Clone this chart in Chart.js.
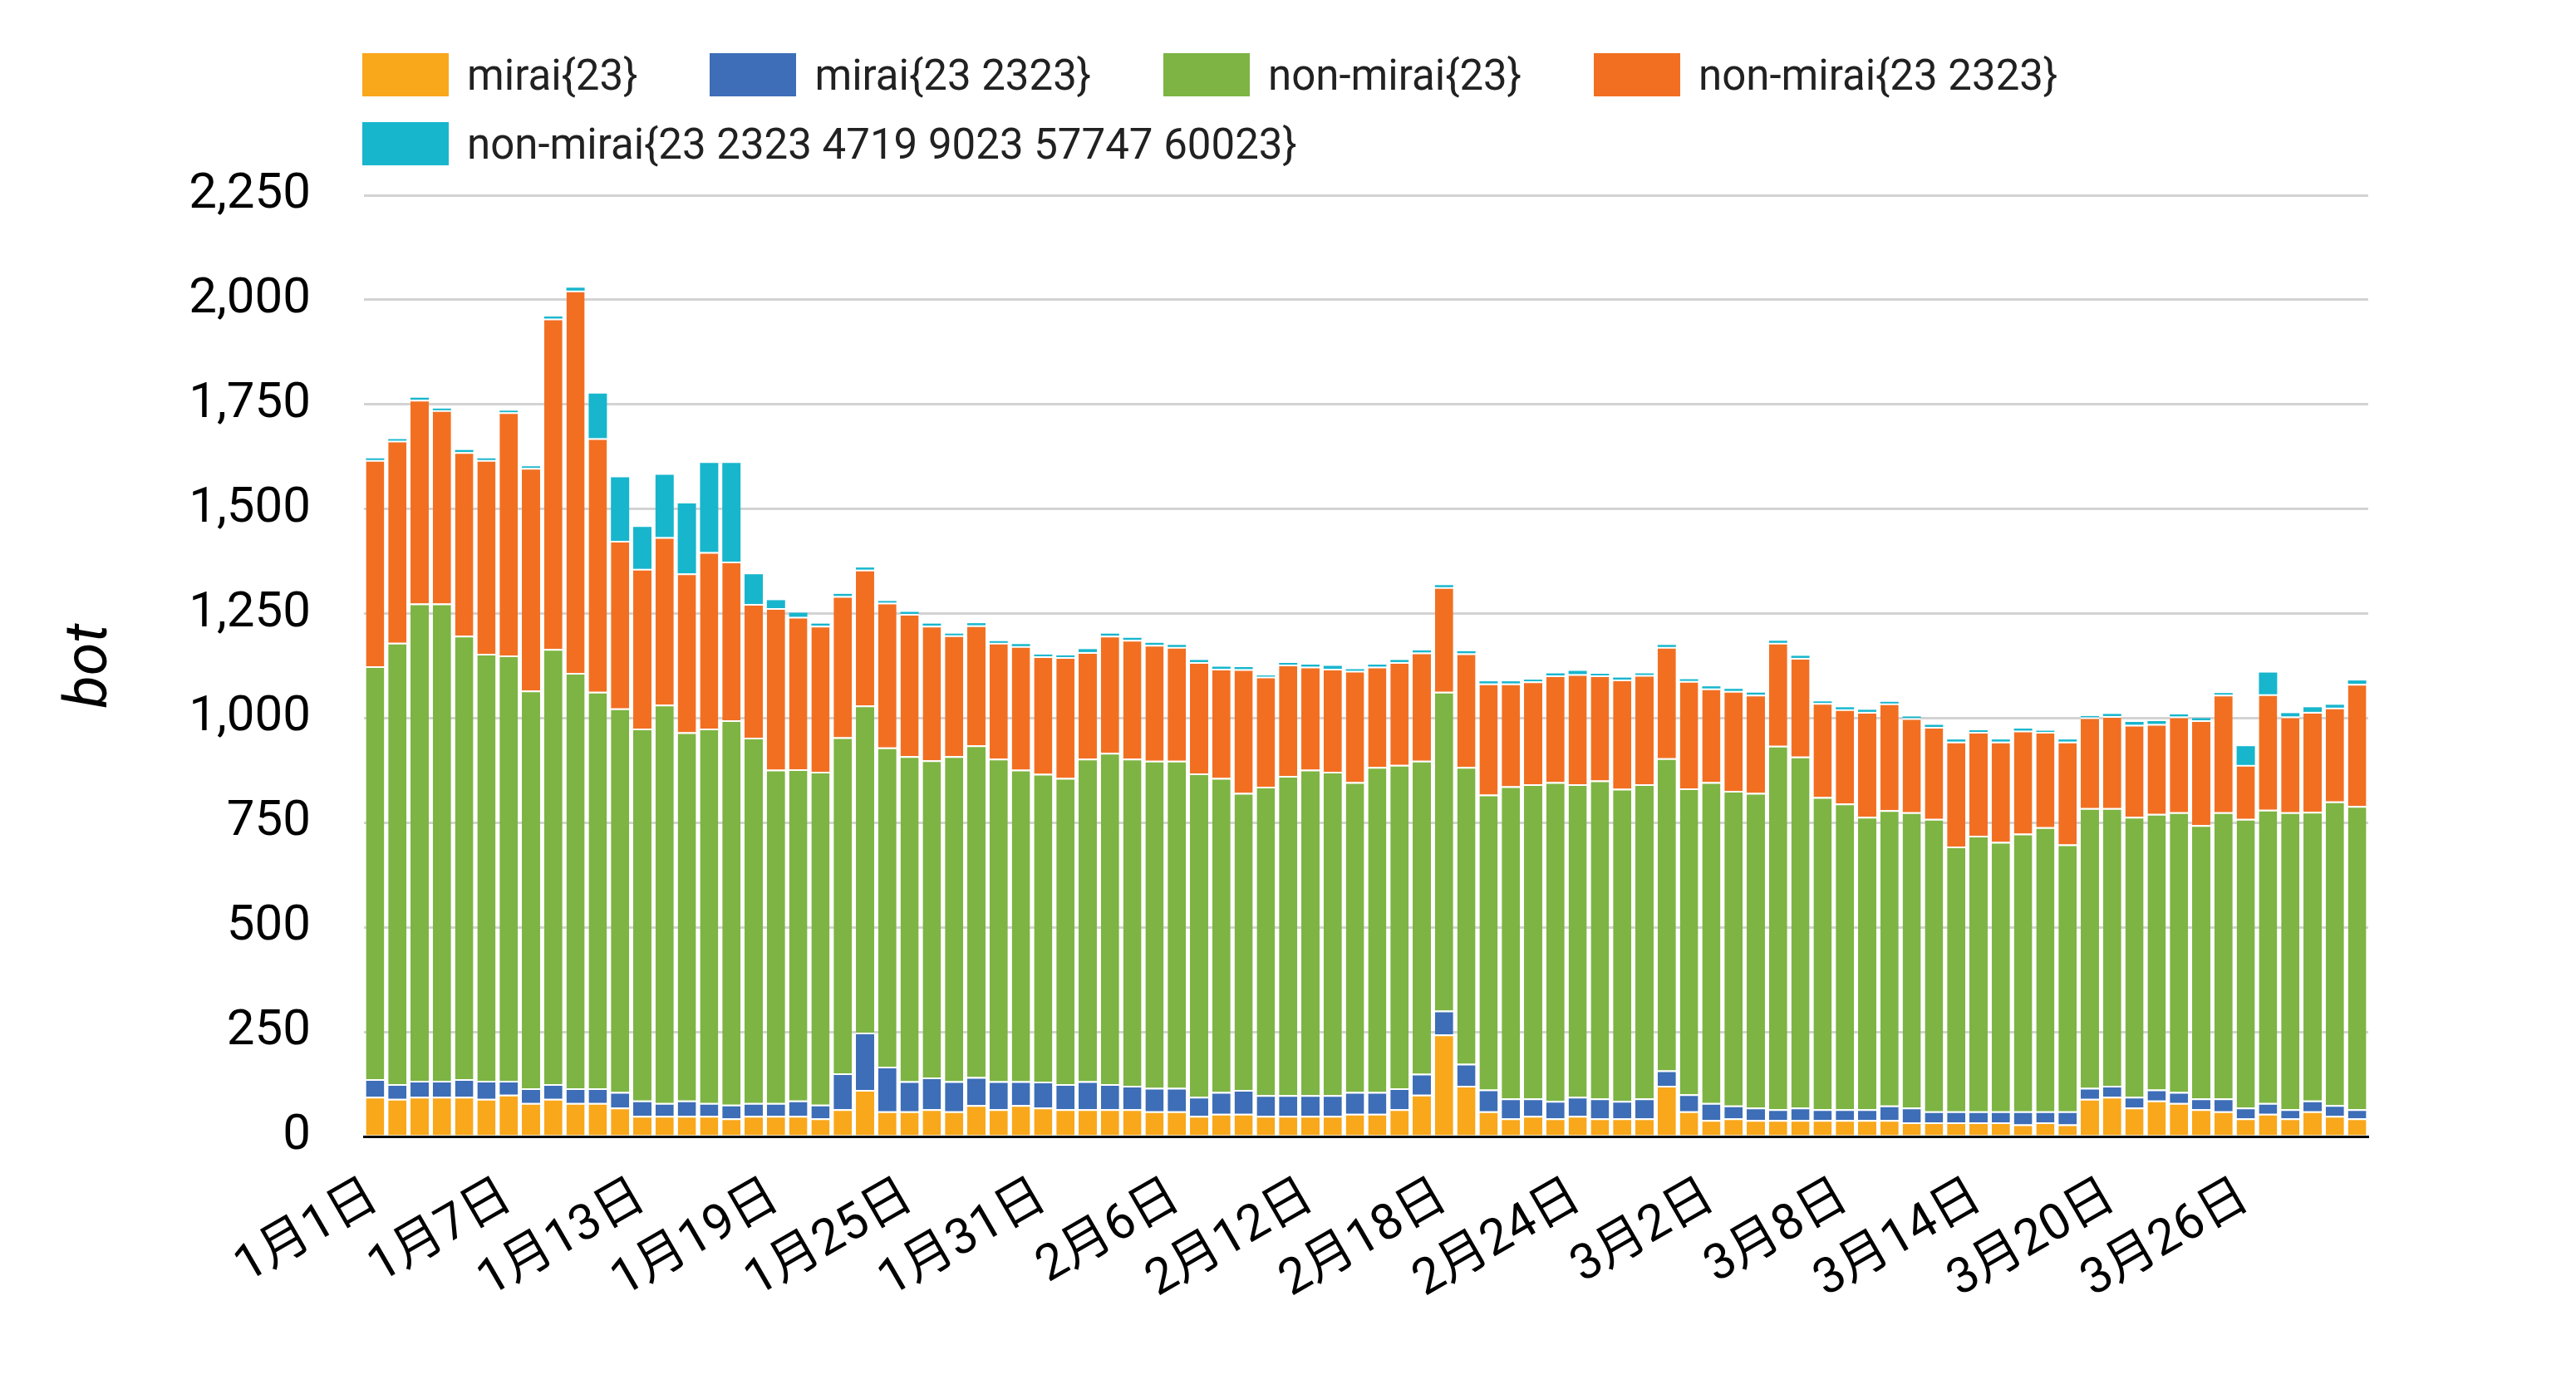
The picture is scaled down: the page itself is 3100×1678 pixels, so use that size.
<!DOCTYPE html>
<html>
<head>
<meta charset="utf-8">
<title>bot</title>
<script src="https://cdn.jsdelivr.net/npm/chart.js@4.4.0/dist/chart.umd.min.js"></script>
<style>
    html, body { margin: 0; padding: 0; background: #fff; }
    .wrap { position: relative; width: 3100px; height: 1678px; }
    #chart { position: absolute; left: 0; top: 0; }
    .legend { position: absolute; left: 436px; top: 64px; width: 2414px; display: flex; flex-wrap: wrap;
        font-family: Roboto, sans-serif; font-size: 51px; color: #212121; }
    .legend__item { display: flex; align-items: center; height: 52px; margin: 0 87px 31px 0; white-space: nowrap; }
    .legend__box { width: 104px; height: 52px; margin-right: 22px; }
</style>
</head>
<body>
<div class="wrap">
    <canvas id="chart" width="3100" height="1678"></canvas>
    <div class="legend" id="legend"></div>
</div>
<script>
const days = [
    "1月1日", "1月2日", "1月3日", "1月4日", "1月5日", "1月6日", "1月7日", "1月8日", "1月9日", "1月10日",
    "1月11日", "1月12日", "1月13日", "1月14日", "1月15日", "1月16日", "1月17日", "1月18日", "1月19日", "1月20日",
    "1月21日", "1月22日", "1月23日", "1月24日", "1月25日", "1月26日", "1月27日", "1月28日", "1月29日", "1月30日", "1月31日",
    "2月1日", "2月2日", "2月3日", "2月4日", "2月5日", "2月6日", "2月7日", "2月8日", "2月9日", "2月10日",
    "2月11日", "2月12日", "2月13日", "2月14日", "2月15日", "2月16日", "2月17日", "2月18日", "2月19日", "2月20日",
    "2月21日", "2月22日", "2月23日", "2月24日", "2月25日", "2月26日", "2月27日", "2月28日",
    "3月1日", "3月2日", "3月3日", "3月4日", "3月5日", "3月6日", "3月7日", "3月8日", "3月9日", "3月10日",
    "3月11日", "3月12日", "3月13日", "3月14日", "3月15日", "3月16日", "3月17日", "3月18日", "3月19日", "3月20日",
    "3月21日", "3月22日", "3月23日", "3月24日", "3月25日", "3月26日", "3月27日", "3月28日", "3月29日", "3月30日", "3月31日"
];

// every 6th day gets a label
const shownDays = ["1月1日", "1月7日", "1月13日", "1月19日", "1月25日", "1月31日", "2月6日", "2月12日",
    "2月18日", "2月24日", "3月2日", "3月8日", "3月14日", "3月20日", "3月26日"];

const yTicks = [0, 250, 500, 750, 1000, 1250, 1500, 1750, 2000, 2250];

const mirai23 = [
    95, 90, 95, 95, 95, 90, 100, 80, 90, 80, 80, 69, 49, 49, 49, 49, 43, 49, 49, 49, 43, 65, 111, 60, 60, 65, 60, 75, 65, 75,
    69, 65, 65, 65, 65, 60, 60, 49, 54, 54, 49, 49, 49, 49, 54, 54, 65, 100, 244, 121, 60, 43, 49, 43, 49, 43, 43, 43, 121, 60,
    39, 43, 39, 39, 39, 39, 39, 39, 39, 34, 34, 34, 34, 34, 29, 34, 29, 90, 95, 69, 86, 80, 65, 60, 43, 54, 43, 60, 49, 43
];
const mirai2323 = [
    42, 35, 38, 38, 42, 43, 33, 35, 35, 35, 35, 37, 37, 31, 37, 31, 33, 31, 31, 37, 33, 86, 137, 107, 72, 76, 72, 67, 67, 57,
    62, 60, 67, 60, 56, 56, 56, 46, 52, 57, 50, 50, 50, 50, 52, 52, 50, 50, 57, 53, 52, 48, 42, 42, 46, 48, 42, 48, 37, 41,
    41, 31, 30, 26, 30, 26, 26, 26, 35, 35, 26, 26, 26, 26, 31, 26, 31, 26, 26, 26, 26, 26, 26, 31, 26, 26, 22, 26, 26, 22
];
const nonMirai23 = [
    987, 1055, 1141, 1141, 1060, 1021, 1017, 951, 1040, 993, 948, 917, 889, 952, 880, 895, 919, 873, 797, 792, 796, 803, 782, 763, 777, 758, 777, 793, 771, 745,
    736, 732, 771, 792, 782, 782, 782, 773, 751, 710, 737, 763, 778, 773, 741, 777, 773, 748, 762, 709, 705, 746, 751, 762, 747, 760, 746, 751, 746, 731,
    767, 752, 752, 869, 839, 746, 731, 699, 706, 706, 699, 633, 659, 644, 664, 679, 638, 669, 664, 669, 659, 669, 653, 684, 690, 701, 710, 690, 726, 725
];
const nonMirai2323 = [
    493, 483, 487, 462, 439, 463, 581, 532, 790, 914, 606, 401, 382, 401, 380, 422, 379, 320, 386, 364, 349, 338, 325, 346, 340, 322, 289, 287, 277, 295,
    281, 289, 255, 280, 284, 277, 272, 266, 261, 296, 263, 266, 246, 246, 266, 240, 246, 259, 250, 272, 266, 246, 246, 255, 263, 251, 261, 261, 266, 257,
    224, 239, 235, 246, 236, 225, 225, 251, 255, 225, 220, 251, 248, 240, 246, 228, 246, 217, 220, 220, 215, 229, 251, 281, 129, 276, 229, 239, 224, 292
];
const nonMiraiAll = [
    4, 4, 5, 4, 5, 4, 4, 4, 5, 7, 107, 152, 100, 149, 167, 213, 236, 71, 19, 10, 5, 5, 5, 4, 5, 5, 4, 5, 4, 5,
    4, 4, 7, 5, 5, 5, 5, 5, 5, 5, 3, 4, 5, 7, 4, 5, 5, 5, 5, 5, 5, 5, 4, 5, 8, 4, 5, 4, 5, 4,
    5, 5, 5, 5, 5, 4, 5, 5, 4, 4, 5, 5, 4, 5, 5, 3, 5, 3, 5, 7, 7, 5, 5, 4, 45, 52, 8, 11, 7, 8
];

const tickFont = "Roboto, 'Noto Sans CJK JP', sans-serif";

function bars(label, data, color, sep) {
    return {
        label: label,
        data: data,
        backgroundColor: color,
        borderColor: "#ffffff",
        borderWidth: { top: sep, right: 0, bottom: 0, left: 0 },
        borderSkipped: false,
        barPercentage: 0.82,
        categoryPercentage: 1
    };
}

const chart = new Chart(document.querySelector("#chart").getContext("2d"), {
    type: "bar",
    data: {
        labels: days,
        datasets: [
            bars("mirai{23}", mirai23, "#f9a71b", 2),
            bars("mirai{23 2323}", mirai2323, "#3d6eb7", 2),
            bars("non-mirai{23}", nonMirai23, "#7db443", 2),
            bars("non-mirai{23 2323}", nonMirai2323, "#f26f22", 2),
            bars("non-mirai{23 2323 4719 9023 57747 60023}", nonMiraiAll, "#17b6cd", 0)
        ]
    },
    options: {
        responsive: false,
        animation: false,
        devicePixelRatio: 1,
        locale: "en-US",
        layout: { padding: { top: 235, right: 250, bottom: 0, left: 0 } },
        plugins: {
            legend: { display: false },
            tooltip: { enabled: false }
        },
        scales: {
            x: {
                stacked: true,
                grid: { display: false },
                border: { display: true, color: "#000000", width: 3, z: 1 },
                ticks: {
                    autoSkip: false,
                    minRotation: 30,
                    maxRotation: 30,
                    padding: 30,
                    color: "#000000",
                    font: { family: tickFont, size: 60 },
                    callback: (value, index) => shownDays.includes(days[index]) ? days[index] : ""
                },
                afterFit: (scale) => { scale.height = 310; }
            },
            y: {
                stacked: true,
                min: yTicks[0],
                max: yTicks[yTicks.length - 1],
                afterBuildTicks: (scale) => { scale.ticks = yTicks.map(v => ({ value: v })); },
                ticks: {
                    padding: 64,
                    color: "#000000",
                    font: { family: tickFont, size: 60 }
                },
                grid: { color: "#d3d3d3", lineWidth: 3, drawTicks: false },
                border: { display: false },
                title: {
                    display: true,
                    text: "bot",
                    color: "#000000",
                    font: { family: tickFont, size: 72, style: "italic" },
                    padding: { top: 67, bottom: 0 }
                },
                afterFit: (scale) => { scale.width = 438; }
            }
        }
    }
});

// html legend built from the datasets
const legendBox = document.querySelector("#legend");
chart.data.datasets.forEach(ds => {
    const item = document.createElement("div");
    item.className = "legend__item";
    const box = document.createElement("span");
    box.className = "legend__box";
    box.style.background = ds.backgroundColor;
    item.appendChild(box);
    item.appendChild(document.createTextNode(ds.label));
    legendBox.appendChild(item);
});
</script>
</body>
</html>
